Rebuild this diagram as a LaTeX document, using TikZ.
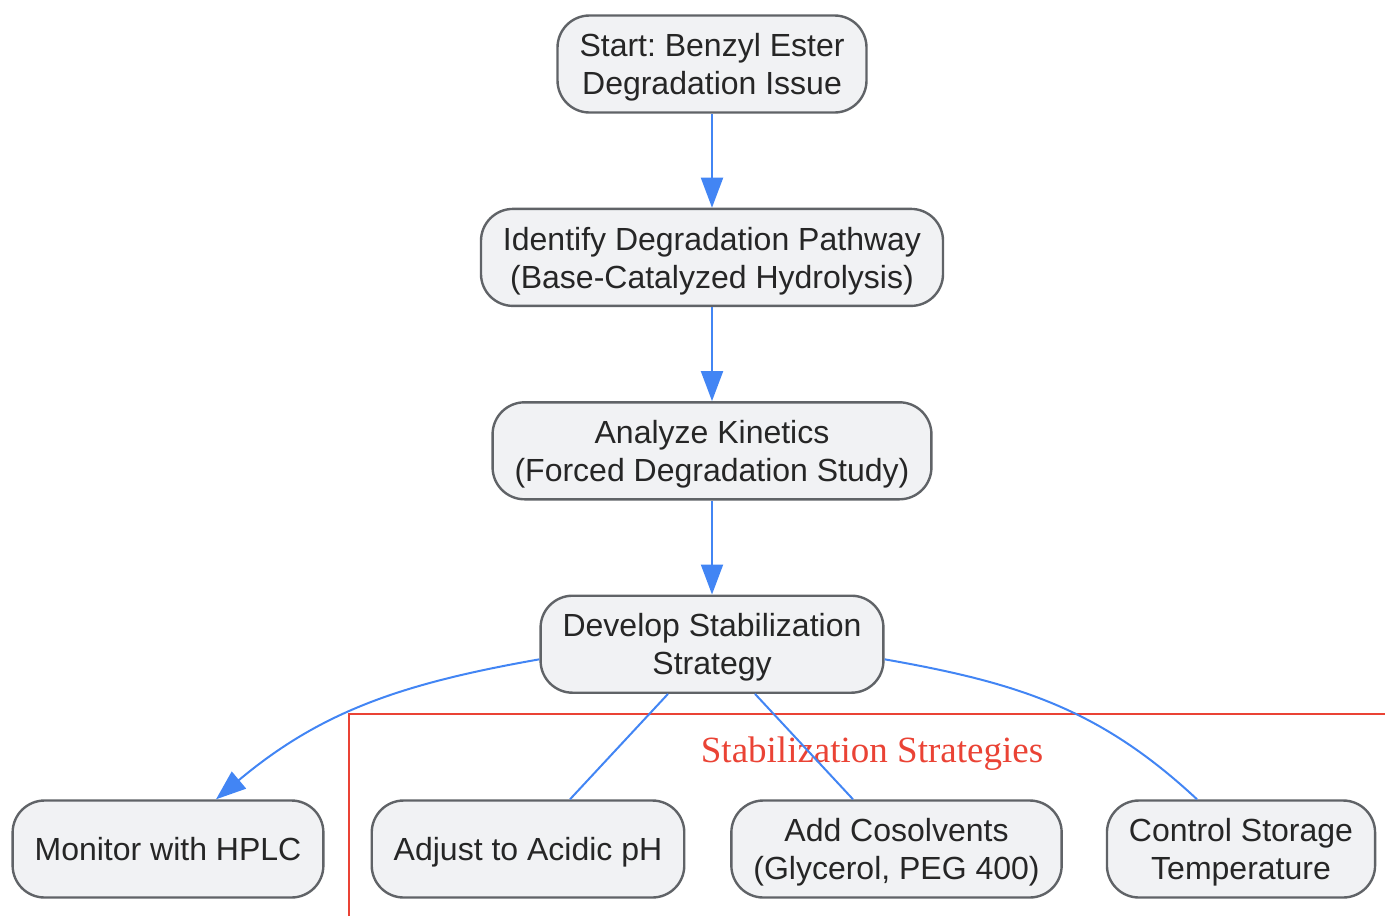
\documentclass[tikz,border=0pt]{standalone}
\usepackage{fontspec}
\setmainfont{Liberation Sans}
\newfontfamily\clusterfont{Liberation Serif}
\usetikzlibrary{arrows.meta,positioning}
\definecolor{edgeblue}{HTML}{4285F4}
\definecolor{nodefill}{HTML}{F1F2F4}
\definecolor{nodeline}{HTML}{606367}
\definecolor{textgray}{HTML}{262626}
\definecolor{clusterred}{HTML}{EA4335}
\frenchspacing

\begin{document}
\begin{tikzpicture}[x=0.5pt,y=-0.5pt,>={Triangle[length=15pt,width=11pt]},
  line width=1pt,
  main node/.style={rectangle,rounded corners=16pt,fill=nodefill,draw=nodeline,
    line width=1.2pt,text=textgray,align=center,minimum height=48.5pt,inner xsep=11pt,
    text depth=0pt,font=\fontsize{16pt}{19pt}\selectfont},
  flow/.style={draw=edgeblue,->},
  link/.style={draw=edgeblue,-}]
  \useasboundingbox (0,0) rectangle (1385,916);
  % strategy group
  \draw[clusterred,line width=1.4pt] (349,916) -- (349,714) -- (1385,714);
  \node[text=clusterred,anchor=base,inner sep=0pt,
    font=\clusterfont\fontsize{18.5pt}{22pt}\selectfont] (lbl) at (872,762) {Stabilization Strategies};

  \node[main node] (1) at (712,64) {Start: Benzyl Ester\\Degradation Issue};
  \node[main node] (2) [below=47pt of 1] {Identify Degradation Pathway\\(Base-Catalyzed Hydrolysis)};
  \node[main node] (3) [below=47pt of 2] {Analyze Kinetics\\(Forced Degradation Study)};
  \node[main node] (4) [below=47pt of 3] {Develop Stabilization\\Strategy};
  \node[main node] (5) at (168,849) {Monitor with HPLC};
  \node[main node] (6) at (528,849) {Adjust to Acidic pH};
  \node[main node] (7) at (896.5,849) {Add Cosolvents\\(Glycerol, PEG 400)};
  \node[main node] (8) at (1241,849) {Control Storage\\Temperature};

  \path
    (1) edge[flow] (2)
    (2) edge[flow] (3)
    (3) edge[flow] (4)
    (4.185) edge[flow,out=190,in=40] ([xshift=24pt]5.north)
    ([xshift=-22pt]4.south) edge[link] ([xshift=21pt]6.north)
    ([xshift=21.5pt]4.south) edge[link] ([xshift=-21.75pt]7.north)
    (4.355) edge[link,out=-10,in=137] ([xshift=-22pt]8.north);
\end{tikzpicture}
\end{document}
